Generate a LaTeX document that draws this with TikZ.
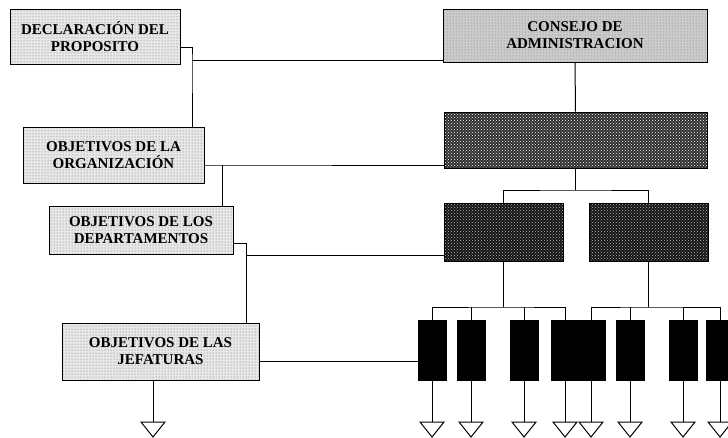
\documentclass[tikz,border=0pt]{standalone}
\usepackage{fontspec}
\setmainfont{Liberation Serif}
\usepackage{tikz}
\usetikzlibrary{patterns, calc}

\begin{document}
\begin{tikzpicture}[x=1pt, y=-1pt, line width=1pt,
    goal/.style={draw, align=center, inner sep=0pt,
                 font=\bfseries\fontsize{15}{17}\selectfont,
                 preaction={fill=gray!18}, pattern=dots, pattern color=black!60},
    board/.style={goal, preaction={fill=gray!40}, pattern color=black!55},
    staff/.style={draw, preaction={fill=black!82}, pattern=crosshatch dots, pattern color=white},
    dept/.style={draw, preaction={fill=black!92}, pattern=crosshatch dots, pattern color=gray!55},
    unit/.style={draw, fill=black, minimum width=28pt, minimum height=60pt, inner sep=0pt},
    sink/.style={draw, fill=white},
]
    \useasboundingbox (0, 0) rectangle (728, 437);
    \clip (0, 0) rectangle (728, 437);

    % === planning chain (left) ===
    \node[goal, minimum width=170pt, minimum height=55pt] (decl) at (95, 36.5) {DECLARACIÓN DEL\\PROPOSITO};
    \node[goal, minimum width=181pt, minimum height=56pt] (org) at (113.5, 155) {OBJETIVOS DE LA\\ORGANIZACIÓN};
    \node[goal, minimum width=184pt, minimum height=48pt] (deps) at (141, 230) {OBJETIVOS DE LOS\\DEPARTAMENTOS};
    \node[goal, minimum width=197pt, minimum height=57pt] (jef) at (160.5, 351.5) {OBJETIVOS DE LAS\\JEFATURAS};

    % === organisation chart (right) ===
    \node[board, minimum width=264pt, minimum height=53pt] (cons) at (575, 35.5) {CONSEJO DE\\ADMINISTRACION};
    \node[staff, minimum width=263pt, minimum height=56pt] (gen) at (575.5, 140) {};
    \node[dept, minimum width=119pt, minimum height=58pt] (darkl) at (503.5, 232) {};
    \node[dept, minimum width=119pt, minimum height=58pt] (darkr) at (648.5, 232) {};

    \draw (cons) -- (gen);
    \draw (gen.south) -- (gen.south |- 0, 190);
    \draw (darkl.north) |- (gen.south |- 0, 190) -| (darkr.north);

    % units and their outputs
    \foreach \n/\cx in {1/432, 2/471, 3/524, 4/565, 5/591, 6/630, 7/683, 8/720} {
        \node[unit] (u\n) at (\cx, 350) {};
        \coordinate (t\n) at (\cx, 422);
        \draw (u\n) -- (t\n);
    }
    \coordinate (busl) at (503.5, 307);
    \coordinate (busr) at (648.5, 307);
    \draw (darkl) -- (busl);
    \draw (darkr) -- (busr);
    \draw (u1.north) |- (busl) -| (u4.north);
    \draw (u5.north) |- (busr) -| (u8.north);
    \foreach \n in {2, 3} \draw (u\n.north) -- (u\n.north |- busl);
    \foreach \n in {6, 7} \draw (u\n.north) -- (u\n.north |- busr);

    % === links between both sides ===
    \coordinate (j1) at (192, 60);
    \draw ([yshift=-10.5pt]decl.east) -| (j1) -- (j1 |- org.north);
    \draw (j1) -- (j1 -| cons.west);

    \coordinate (j2) at (222, 165);
    \draw ([yshift=-10pt]org.east) -- (j2) -- (j2 -| gen.west);
    \draw (j2) -- (j2 |- deps.north);

    \coordinate (j3) at (246, 255);
    \draw ([yshift=-13pt]deps.east) -| (j3 |- jef.north);
    \draw (j3) -- (j3 -| darkl.west);

    \draw ([yshift=-9.5pt]jef.east) -- ([yshift=-9.5pt]jef.east -| u1.west);
    \coordinate (t0) at (153, 422);
    \draw (t0 |- jef.south) -- (t0);

    % output triangles
    \foreach \n in {0, ..., 8}
        \draw[sink] (t\n) ++(-12, 0) -- ++(24, 0) -- ++(-12, 15) -- cycle;
\end{tikzpicture}
\end{document}
